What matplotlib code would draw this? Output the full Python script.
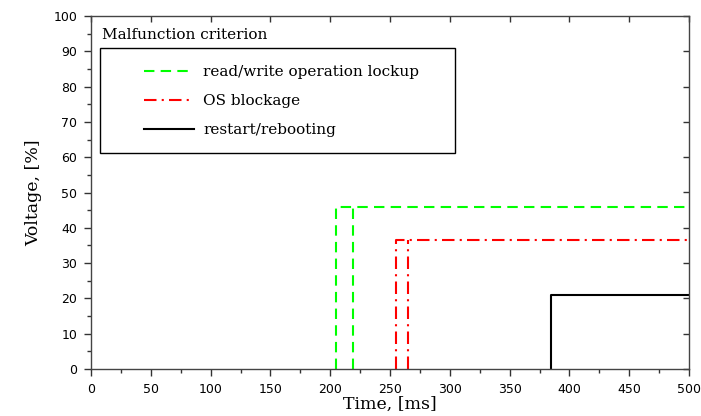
import matplotlib
matplotlib.use('Agg')
import matplotlib.pyplot as plt
from matplotlib.patches import Rectangle
from matplotlib.ticker import MultipleLocator

# curves (time in ms, voltage in %)
rw_x = [205, 205, 500]
rw_y = [0, 46, 46]
rw2_x = [219, 219]
rw2_y = [0, 46]

os_x = [255, 255, 500]
os_y = [0, 36.5, 36.5]
os2_x = [265, 265]
os2_y = [0, 36.5]

rb_x = [385, 385, 500]
rb_y = [0, 21, 21]

labels = ['read/write operation lockup', 'OS blockage', 'restart/rebooting']

serif = 'DejaVu Serif'

fig = plt.figure(figsize=(7.01, 4.16), dpi=100)
ax = fig.add_axes([91/701, 47/416, 598/701, 353/416])

green = '#00ff00'
red = '#ff0000'
ls_g = (0, (5, 3))
ls_r = (0, (6, 2.5, 1, 2.5))

l1, = ax.plot(rw_x, rw_y, color=green, lw=1.5, ls=ls_g)
ax.plot(rw2_x, rw2_y, color=green, lw=1.5, ls=ls_g)
l2, = ax.plot(os_x, os_y, color=red, lw=1.5, ls=ls_r)
ax.plot(os2_x, os2_y, color=red, lw=1.5, ls=ls_r)
l3, = ax.plot(rb_x, rb_y, color='black', lw=1.5)

ax.set_xlim(0, 500)
ax.set_ylim(0, 100)
ax.xaxis.set_major_locator(MultipleLocator(50))
ax.xaxis.set_minor_locator(MultipleLocator(25))
ax.yaxis.set_major_locator(MultipleLocator(10))
ax.yaxis.set_minor_locator(MultipleLocator(5))
ax.tick_params(which='major', direction='out', length=5, width=1, color='#333333',
               labelsize=9, pad=5)
ax.tick_params(which='minor', direction='out', length=3, width=1, color='#333333')
for lab in ax.get_xticklabels() + ax.get_yticklabels():
    lab.set_fontfamily('DejaVu Sans')
for s in ax.spines.values():
    s.set_linewidth(1.0)
    s.set_color('#444444')

# mirrored ticks pointing inward on top and right
top = ax.secondary_xaxis('top')
top.xaxis.set_major_locator(MultipleLocator(50))
top.tick_params(direction='in', length=4, width=1, color='#333333', labeltop=False)
top.spines['top'].set_visible(False)
right = ax.secondary_yaxis('right')
right.yaxis.set_major_locator(MultipleLocator(10))
right.tick_params(direction='in', length=4, width=1, color='#333333', labelright=False)
right.spines['right'].set_visible(False)

ax.set_xlabel('Time, [ms]', fontfamily=serif, fontsize=12.5, labelpad=0)
ax.set_ylabel('Voltage, [%]', fontfamily=serif, fontsize=12.5, labelpad=8)

ax.text(0.018, 0.946, 'Malfunction criterion', transform=ax.transAxes,
        fontfamily=serif, fontsize=11, va='center', ha='left')
ax.add_patch(Rectangle((0.015, 0.612), 0.594, 0.297, transform=ax.transAxes,
                       fill=False, edgecolor='black', lw=1.0, zorder=3))

leg = ax.legend([l1, l2, l3], labels, loc='upper left',
                bbox_to_anchor=(0.068, 0.896), frameon=False,
                prop={'family': serif, 'size': 11},
                handlelength=3.3, handletextpad=0.6, labelspacing=1.0,
                borderpad=0.3)

fig.savefig('out.png', dpi=100)
